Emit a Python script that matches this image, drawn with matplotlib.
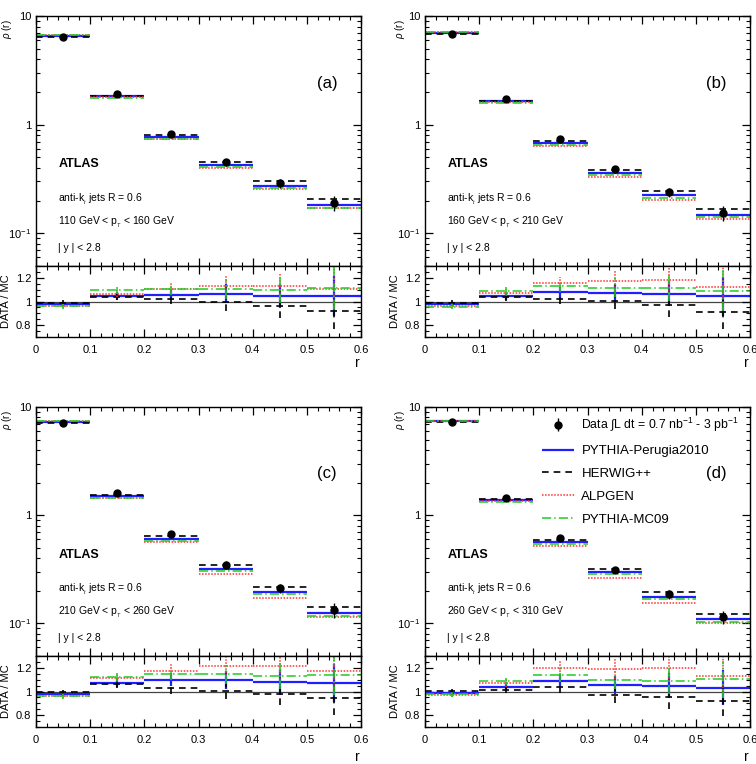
import matplotlib
matplotlib.use('Agg')
import matplotlib.pyplot as plt
from matplotlib.ticker import FixedLocator, FixedFormatter, MultipleLocator, LogLocator, NullFormatter

plt.rcParams['font.family'] = ['Liberation Sans', 'DejaVu Sans']
plt.rcParams['mathtext.fontset'] = 'custom'
plt.rcParams['mathtext.rm'] = 'Liberation Sans'
plt.rcParams['mathtext.it'] = 'Liberation Sans:italic'
plt.rcParams['mathtext.bf'] = 'Liberation Sans:bold'

# ── data ─────────────────────────────────────────────────────────
bin_edges = [0.0, 0.1, 0.2, 0.3, 0.4, 0.5, 0.6]
bin_centers = [0.05, 0.15, 0.25, 0.35, 0.45, 0.55]

panel_tags = ['(a)', '(b)', '(c)', '(d)']
pt_ranges = ['110 GeV < p$_{_T}$ < 160 GeV', '160 GeV < p$_{_T}$ < 210 GeV',
             '210 GeV < p$_{_T}$ < 260 GeV', '260 GeV < p$_{_T}$ < 310 GeV']

# measured rho(r), one row per pT bin
data_rho = [
    [6.37, 1.93, 0.82, 0.453, 0.288, 0.191],
    [6.82, 1.73, 0.733, 0.388, 0.238, 0.153],
    [7.11, 1.62, 0.667, 0.349, 0.211, 0.133],
    [7.28, 1.44, 0.618, 0.312, 0.185, 0.114],
]
# relative uncertainty of the data
data_relerr = [
    [0.02, 0.03, 0.045, 0.075, 0.10, 0.16],
    [0.02, 0.03, 0.045, 0.07, 0.10, 0.16],
    [0.02, 0.03, 0.05, 0.07, 0.10, 0.15],
    [0.02, 0.03, 0.05, 0.07, 0.10, 0.14],
]

# DATA / MC ratios
ratio_perugia = [
    [0.978, 1.047, 1.058, 1.067, 1.047, 1.047],
    [0.978, 1.044, 1.078, 1.070, 1.067, 1.044],
    [0.980, 1.073, 1.101, 1.096, 1.079, 1.073],
    [0.989, 1.042, 1.093, 1.056, 1.051, 1.034],
]
ratio_herwig = [
    [0.990, 1.042, 1.025, 0.997, 0.958, 0.917],
    [0.990, 1.039, 1.025, 1.006, 0.970, 0.911],
    [0.994, 1.062, 1.028, 1.003, 0.980, 0.946],
    [1.003, 1.017, 1.037, 0.972, 0.950, 0.924],
]
ratio_alpgen = [
    [0.962, 1.067, 1.110, 1.130, 1.130, 1.110],
    [0.964, 1.075, 1.153, 1.172, 1.180, 1.120],
    [0.966, 1.113, 1.172, 1.220, 1.220, 1.172],
    [0.972, 1.073, 1.200, 1.190, 1.197, 1.135],
]
ratio_mc09 = [
    [0.958, 1.094, 1.105, 1.105, 1.100, 1.114],
    [0.956, 1.089, 1.130, 1.117, 1.114, 1.092],
    [0.960, 1.127, 1.152, 1.146, 1.135, 1.141],
    [0.975, 1.085, 1.141, 1.096, 1.090, 1.104],
]

# ── styles ───────────────────────────────────────────────────────
mc_models = [
    ('PYTHIA-Perugia2010', ratio_perugia, '#1f1fff', '-', 1.6),
    ('HERWIG++', ratio_herwig, 'black', (0, (4, 3)), 1.2),
    ('ALPGEN', ratio_alpgen, '#ff3030', (0, (1, 1)), 1.1),
    ('PYTHIA-MC09', ratio_mc09, '#22cc22', (0, (6, 2, 1, 2)), 1.1),
]

fig = plt.figure(figsize=(7.56, 7.64), dpi=100)
fig.patch.set_facecolor('white')

lefts = [0.0476, 0.5622]
width = 0.430
main_bottoms = [0.6518, 0.1414]
main_heights = [0.3272, 0.3259]
ratio_bottoms = [0.5589, 0.0484]
ratio_height = 0.0929
r_label_y = [-0.36, -0.42]
rho_label_x = [-0.088, -0.078]


def style_ticks(ax):
    ax.tick_params(which='both', direction='in', top=True, right=True,
                   labelsize=8)
    ax.tick_params(which='major', length=6, width=0.9)
    ax.tick_params(which='minor', length=3, width=0.8)
    for s in ax.spines.values():
        s.set_linewidth(1.0)


for i in range(4):
    col, row = i % 2, i // 2
    ax = fig.add_axes([lefts[col], main_bottoms[row], width, main_heights[row]])
    axr = fig.add_axes([lefts[col], ratio_bottoms[row], width, ratio_height])

    dvals = data_rho[i]
    errs = [d * e for d, e in zip(dvals, data_relerr[i])]

    # MC predictions derived from data and DATA/MC ratio
    for name, ratios, color, ls, lw in mc_models:
        mc_vals = [d / r for d, r in zip(dvals, ratios[i])]
        ax.hlines(mc_vals, bin_edges[:-1], bin_edges[1:], colors=color,
                  linestyles=ls, linewidth=lw, label=name)
        axr.hlines(ratios[i], bin_edges[:-1], bin_edges[1:], colors=color,
                   linestyles=ls, linewidth=lw)
        rerr = [r * e for r, e in zip(ratios[i], data_relerr[i])]
        axr.vlines(bin_centers, [r - e for r, e in zip(ratios[i], rerr)],
                   [r + e for r, e in zip(ratios[i], rerr)], colors=color,
                   linestyles=ls if name != 'PYTHIA-Perugia2010' else '-',
                   linewidth=lw)

    ax.errorbar(bin_centers, dvals, yerr=errs, fmt='o', color='black',
                markersize=5, elinewidth=1.0, capsize=0, zorder=5,
                label='Data \u222bL dt = 0.7 nb$^{-1}$ - 3 pb$^{-1}$')

    axr.axhline(1.0, color='#444444', linewidth=0.9, zorder=0)

    # main axis format
    ax.set_yscale('log')
    ax.set_xlim(0, 0.6)
    ax.set_ylim(0.05, 10)
    ax.yaxis.set_major_locator(FixedLocator([0.1, 1, 10]))
    ax.yaxis.set_major_formatter(FixedFormatter(['10$^{-1}$', '1', '10']))
    ax.yaxis.set_minor_locator(LogLocator(base=10, subs=range(2, 10)))
    ax.yaxis.set_minor_formatter(NullFormatter())
    ax.xaxis.set_major_locator(MultipleLocator(0.1))
    ax.xaxis.set_minor_locator(MultipleLocator(0.02))
    ax.set_xticklabels([])
    style_ticks(ax)
    ax.text(rho_label_x[col], 0.985, '$\\rho$ (r)', rotation=90, fontsize=7,
            ha='center', va='top', transform=ax.transAxes)

    # ratio axis format
    axr.set_xlim(0, 0.6)
    axr.set_ylim(0.7, 1.3)
    axr.yaxis.set_major_locator(FixedLocator([0.8, 1.0, 1.2]))
    axr.yaxis.set_major_formatter(FixedFormatter(['0.8', '1', '1.2']))
    axr.yaxis.set_minor_locator(MultipleLocator(0.05))
    axr.xaxis.set_major_locator(FixedLocator(bin_edges))
    axr.xaxis.set_minor_locator(MultipleLocator(0.02))
    axr.xaxis.set_major_formatter(FixedFormatter(['0', '0.1', '0.2', '0.3', '0.4', '0.5', '0.6']))
    style_ticks(axr)
    axr.tick_params(axis='x', pad=6)
    axr.set_ylabel('DATA / MC', fontsize=8, labelpad=3)
    axr.text(0.99, r_label_y[row], 'r', fontsize=10, ha='center', va='center',
             transform=axr.transAxes)

    # annotations
    ax.text(0.895, 0.732, panel_tags[i], transform=ax.transAxes,
            fontsize=12, ha='center', va='center')
    ax.text(0.07, 0.407, 'ATLAS', transform=ax.transAxes, fontsize=9,
            fontweight='bold', ha='left', va='center')
    ax.text(0.068, 0.268, 'anti-k$_{_t}$ jets R = 0.6', transform=ax.transAxes,
            fontsize=7.5, ha='left', va='center')
    ax.text(0.068, 0.175, pt_ranges[i], transform=ax.transAxes,
            fontsize=7.5, ha='left', va='center')
    ax.text(0.068, 0.072, '| y | < 2.8', transform=ax.transAxes,
            fontsize=7.5, ha='left', va='center')

    if i == 3:
        handles, labels = ax.get_legend_handles_labels()
        order = [4, 0, 1, 2, 3]
        leg = ax.legend([handles[k] for k in order], [labels[k] for k in order],
                        loc='upper left', bbox_to_anchor=(0.335, 0.995),
                        frameon=False, fontsize=9.5, handlelength=2.4,
                        handletextpad=0.6, labelspacing=0.8, borderaxespad=0.2)
        leg.get_texts()[0].set_fontsize(8.8)

fig.savefig('out.png', dpi=100, facecolor='white')
